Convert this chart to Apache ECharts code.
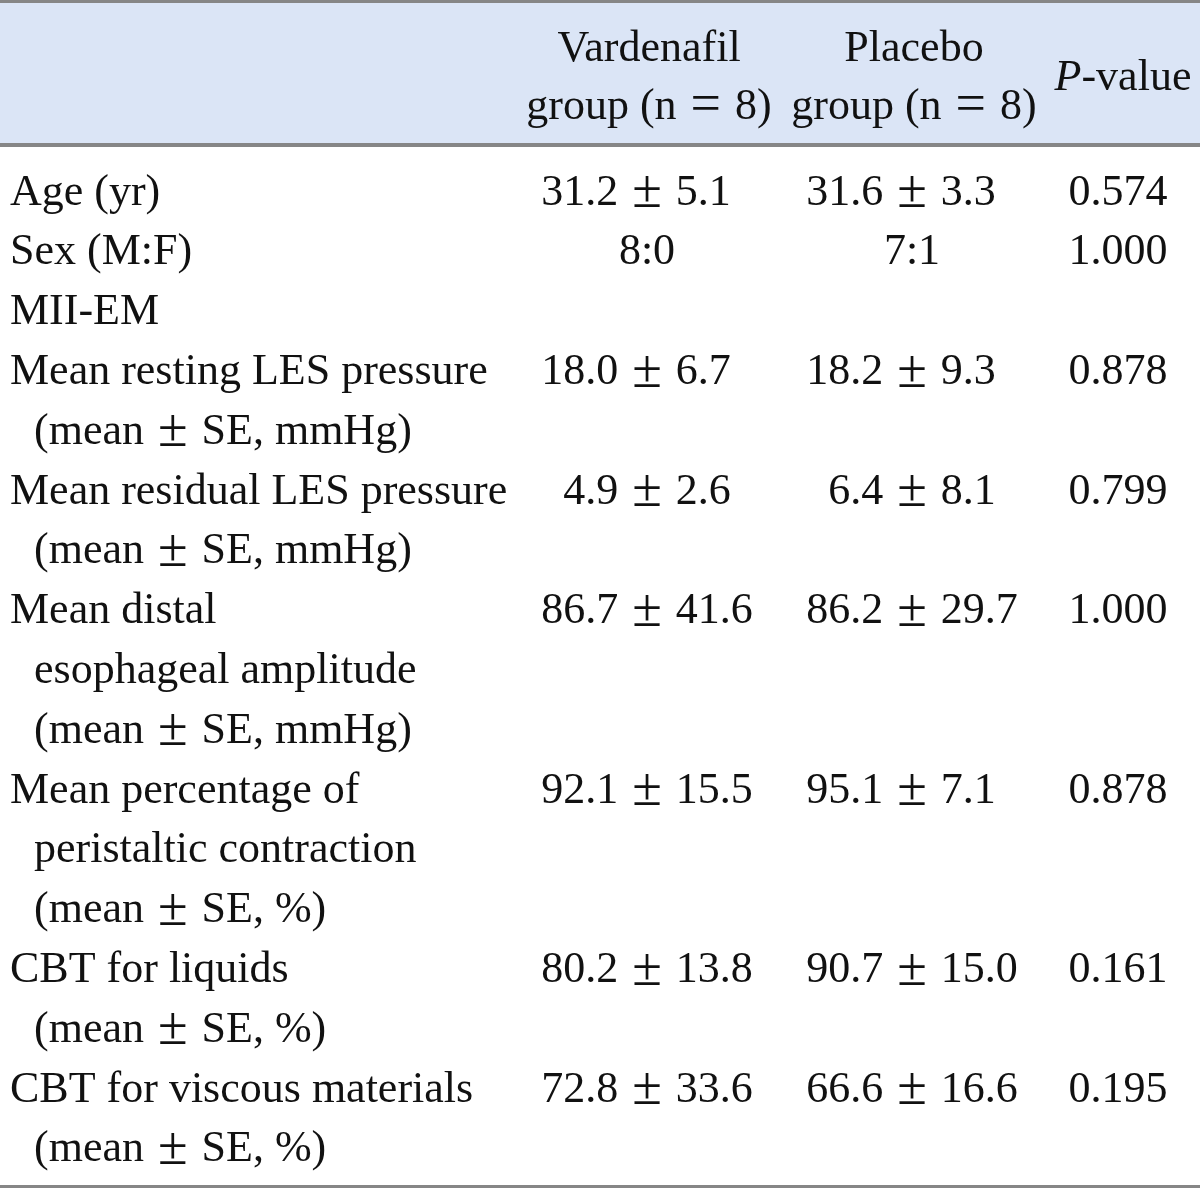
<!DOCTYPE html>
<html>
<head>
<meta charset="utf-8">
<script src="https://cdn.jsdelivr.net/npm/echarts@6/dist/echarts.min.js"></script>
<style>
html,body{margin:0;padding:0;background:#fff;}
#chart{width:1200px;height:1189px;}
</style>
</head>
<body>
<div id="chart"></div>
<script>
// ---- data ----
const columnHeaders = [
  ['Vardenafil', 'group (n = 8)'],
  ['Placebo', 'group (n = 8)'],
  ['{i|P}-value']
];
const rowLabels = [
  ['Age (yr)'],
  ['Sex (M:F)'],
  ['MII-EM'],
  ['Mean resting LES pressure', '(mean ± SE, mmHg)'],
  ['Mean residual LES pressure', '(mean ± SE, mmHg)'],
  ['Mean distal', 'esophageal amplitude', '(mean ± SE, mmHg)'],
  ['Mean percentage of', 'peristaltic contraction', '(mean ± SE, %)'],
  ['CBT for liquids', '(mean ± SE, %)'],
  ['CBT for viscous materials', '(mean ± SE, %)']
];
const vardenafilValues = ['31.2 ± 5.1', '8:0', '', '18.0 ± 6.7', '4.9 ± 2.6', '86.7 ± 41.6', '92.1 ± 15.5', '80.2 ± 13.8', '72.8 ± 33.6'];
const placeboValues    = ['31.6 ± 3.3', '7:1', '', '18.2 ± 9.3', '6.4 ± 8.1', '86.2 ± 29.7', '95.1 ± 7.1', '90.7 ± 15.0', '66.6 ± 16.6'];
const pValues          = ['0.574', '1.000', '', '0.878', '0.799', '1.000', '0.878', '0.161', '0.195'];

// ---- layout / style ----
const FONT_FAMILY = '"Liberation Serif", "DejaVu Serif", serif';
const FONT_SIZE = 44;
const FONT = FONT_SIZE + 'px ' + FONT_FAMILY;
const OP_FONT = '54px ' + FONT_FAMILY;
const OP_GAP = 14;
const TEXT_COLOR = '#111111';
const RULE_COLOR = '#868686';
const HEAD_BG = '#dbe5f6';
const COL = { label: 10, indent: 34, vard: 647, plac: 912, p: 1118 };
const HEAD_COL = [649, 914, 1123];
const BODY_DY = 3;
const HEAD_DY = 1;

const ctx = document.createElement('canvas').getContext('2d');
function measure(t, font) { ctx.font = font; return ctx.measureText(t).width; }

// Lay out one line of text. mode: 'left' | 'center' | 'op' (operator centred on x)
function layoutLine(out, text, x, y, mode) {
  const m = text.match(/^(.*) ([±=]) (.*)$/);
  if (!m) {
    out.push({ x: x, y: y, text: text, align: mode === 'op' ? 'center' : mode, dx: 0 });
    return;
  }
  const w1 = measure(m[1], FONT), wo = measure(m[2], OP_FONT), w2 = measure(m[3], FONT);
  let opLeft;
  if (mode === 'op') opLeft = -wo / 2;
  else if (mode === 'left') opLeft = w1 + OP_GAP;
  else opLeft = -(w1 + w2 + wo + 2 * OP_GAP) / 2 + w1 + OP_GAP;
  out.push({ x: x, y: y, text: m[1], align: 'right', dx: opLeft - OP_GAP });
  out.push({ x: x, y: y, text: m[2], align: 'left', dx: opLeft, font: OP_FONT });
  out.push({ x: x, y: y, text: m[3], align: 'left', dx: opLeft + wo + OP_GAP });
}

// build text items
const headItems = [];
columnHeaders.forEach((lines, c) => {
  lines.forEach((t, k) => {
    const y = lines.length === 1 ? 0.5 : k;
    layoutLine(headItems, t, HEAD_COL[c], y, 'center');
  });
});

const bodyItems = [];
let line = 0;
rowLabels.forEach((lines, r) => {
  lines.forEach((t, k) => {
    layoutLine(bodyItems, t, k === 0 ? COL.label : COL.indent, line + k, 'left');
  });
  if (vardenafilValues[r]) layoutLine(bodyItems, vardenafilValues[r], COL.vard, line, 'op');
  if (placeboValues[r]) layoutLine(bodyItems, placeboValues[r], COL.plac, line, 'op');
  if (pValues[r]) layoutLine(bodyItems, pValues[r], COL.p, line, 'center');
  line += lines.length;
});
const totalLines = line;

function textRenderer(items, dy) {
  return function (params, api) {
    const it = items[params.dataIndex];
    const p = api.coord([api.value(0), api.value(1)]);
    return {
      type: 'text',
      x: p[0] + it.dx,
      y: p[1] + dy,
      style: {
        text: it.text,
        font: it.font || FONT,
        fill: TEXT_COLOR,
        align: it.align,
        verticalAlign: 'middle',
        rich: {
          i: { fontStyle: 'italic', fontSize: FONT_SIZE, fontFamily: FONT_FAMILY, color: TEXT_COLOR }
        }
      }
    };
  };
}

const LINE_H = 59.8;
const BODY_TOP = 190 - LINE_H / 2;
const HEAD_LINE_H = 58;
const HEAD_TOP = 48 - HEAD_LINE_H / 2;

const chart = echarts.init(document.getElementById('chart'), null, { renderer: 'canvas' });
chart.setOption({
  animation: false,
  backgroundColor: '#ffffff',
  graphic: [
    { type: 'rect', shape: { x: 0, y: 3, width: 1200, height: 141 }, style: { fill: HEAD_BG }, z: -10 },
    { type: 'rect', shape: { x: 0, y: 0, width: 1200, height: 3 }, style: { fill: RULE_COLOR }, z: -5 },
    { type: 'rect', shape: { x: 0, y: 143, width: 1200, height: 4 }, style: { fill: RULE_COLOR }, z: -5 },
    { type: 'rect', shape: { x: 0, y: 1185, width: 1200, height: 3 }, style: { fill: RULE_COLOR }, z: -5 }
  ],
  grid: [
    { left: 0, right: 0, top: HEAD_TOP, height: HEAD_LINE_H * 2, containLabel: false, show: false },
    { left: 0, right: 0, top: BODY_TOP, height: LINE_H * totalLines, containLabel: false, show: false }
  ],
  xAxis: [
    { gridIndex: 0, type: 'value', min: 0, max: 1200, show: false },
    { gridIndex: 1, type: 'value', min: 0, max: 1200, show: false }
  ],
  yAxis: [
    { gridIndex: 0, type: 'value', min: -0.5, max: 1.5, inverse: true, show: false },
    { gridIndex: 1, type: 'value', min: -0.5, max: totalLines - 0.5, inverse: true, show: false }
  ],
  series: [
    {
      type: 'custom', xAxisIndex: 0, yAxisIndex: 0, silent: true, clip: false,
      data: headItems.map(d => [d.x, d.y]),
      renderItem: textRenderer(headItems, HEAD_DY)
    },
    {
      type: 'custom', xAxisIndex: 1, yAxisIndex: 1, silent: true, clip: false,
      data: bodyItems.map(d => [d.x, d.y]),
      renderItem: textRenderer(bodyItems, BODY_DY)
    }
  ]
});
</script>
</body>
</html>
